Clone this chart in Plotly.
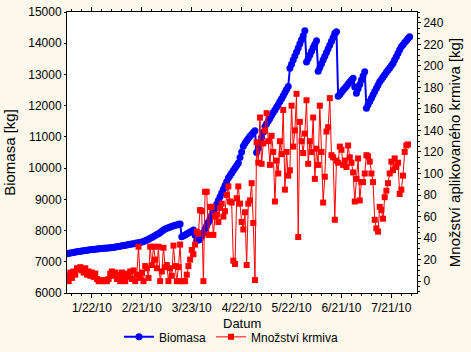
import pandas as pd
import plotly.graph_objects as go

start_date = "2010-01-07"

biomasa = [
    7260, 7270, 7280, 7290, 7300, 7310, 7320, 7330, 7340, 7345,
    7355, 7360, 7370, 7375, 7385, 7390, 7395, 7400, 7410,
    7415, 7420, 7425, 7430, 7435, 7440, 7445, 7450, 7455, 7460,
    7470, 7480, 7490, 7500, 7510, 7520, 7530, 7540, 7550, 7560,
    7570, 7580, 7590, 7600, 7610, 7620, 7630,
    7650, 7670, 7700, 7720, 7750,
    7780, 7810, 7840, 7870, 7900, 7940, 7980, 8020,
    8050, 8070, 8090, 8110, 8130, 8150, 8170, 8180, 8200, 8210,
    7800,
    7830, 7860, 7890, 7920, 7950, 7980, 8020,
    7850, 7680, 7700,
    7720, 7830, 7940, 8050, 8160, 8270, 8390, 8500, 8610, 8720,
    8840, 8960, 9080, 9200, 9320, 9440, 9560, 9680, 9760, 9840,
    9920, 10000, 10080, 10160, 10340, 10520, 10700, 10800, 10880, 10950,
    11020, 11080, 11140, 11200,
    10500, 10640, 10800, 10980, 11150, 11330,
    11420, 11510, 11600, 11690, 11780, 11860, 11950, 12040, 12130, 12220,
    12320, 12420, 12520, 12610,
    13200, 13330, 13460, 13590, 13720, 13850, 13980, 14110, 14240, 14400,
    13400, 13510, 13620, 13740, 13860, 13970, 14080,
    13100, 13220, 13340, 13460, 13580, 13700, 13820, 13940, 14060, 14180,
    14320, 14370,
    12300, 12360, 12430, 12500, 12560, 12620, 12690, 12760, 12820, 12880,
    12600, 12400, 12540, 12680, 12820, 12950, 13090,
    11920, 12030, 12130, 12240, 12350, 12450, 12560, 12660, 12770, 12840,
    12920, 12990, 13070, 13140, 13210, 13290, 13360, 13470, 13570, 13680,
    13790, 13890, 13950, 14020, 14080, 14150, 14210,
]

krmivo = [
    5, 0, 8, 3, 9, 6, 12, 11, 13, 10,
    8, 12, 6, 9, 5, 8, 4, 7, 2, 0,
    1, 0, 0, 1, 0, 2, 7, 9, 5, 8,
    2, 6, 0, 8, 3, 0, 7, 4, 9, 2,
    10, 0, 6, 32, 3, 8, 0, 14, 12, 3,
    32, 15, 32, 20, 12, 32, 0, 9, 31, 13,
    15, 0, 12, 5, 33, 14, 0, 13, 34, 0,
    0, 0, 6, 14, 20, 29, 25, 34, 46, 44,
    66, 65, 0, 83, 83, 43, 69, 69, 43, 60,
    62, 55, 68, 72, 60, 65, 80, 88, 74, 73,
    19, 16, 77, 88, 72, 55, 48, 64, 15, 72,
    75, 91, 54, 1, 129, 110, 152, 109, 128, 140,
    156, 130, 108, 135, 120, 74, 112, 100, 130, 118,
    159, 85, 120, 98, 103, 163, 125, 140, 174, 41,
    148, 130, 119, 137, 168, 109, 130, 120, 152, 95,
    123, 108, 163, 120, 73, 97, 139, 143, 170, 117,
    115, 57, 112, 110, 125, 122, 108, 112, 106, 126,
    115, 110, 101, 74, 95, 114, 75, 92, 92, 100,
    117, 116, 111, 100, 92, 57, 49, 46, 69, 66,
    58, 78, 84, 91, 100, 111, 103, 114, 106, 110,
    81, 85, 98, 120, 126, 127,
]

tick_dates = ["2010-01-22", "2010-02-21", "2010-03-23", "2010-04-22",
              "2010-05-22", "2010-06-21", "2010-07-21"]
tick_labels = ["1/22/10", "2/21/10", "3/23/10", "4/22/10",
               "5/22/10", "6/21/10", "7/21/10"]
left_ticks = [6000, 7000, 8000, 9000, 10000, 11000, 12000, 13000, 14000, 15000]
right_ticks = [0, 20, 40, 60, 80, 100, 120, 140, 160, 180, 200, 220, 240]

dates_b = pd.date_range(start_date, periods=len(biomasa), freq="D")
dates_k = pd.date_range(start_date, periods=len(krmivo), freq="D")

FONT = "Liberation Sans, Arial, sans-serif"

fig = go.Figure()
fig.add_trace(go.Scatter(
    x=dates_b, y=biomasa, name="Biomasa", mode="lines+markers",
    line=dict(color="#0000FF", width=2),
    marker=dict(symbol="circle", size=7, color="#0000FF"),
    yaxis="y", cliponaxis=True,
))
fig.add_trace(go.Scatter(
    x=dates_k, y=krmivo, name="Množství krmiva", mode="lines+markers",
    line=dict(color="#FF0000", width=1),
    marker=dict(symbol="square", size=6, color="#FF0000"),
    yaxis="y2", cliponaxis=True,
))

fig.update_layout(
    width=471, height=352,
    margin=dict(l=67, r=54, t=12, b=59, autoexpand=False),
    paper_bgcolor="#FDF8EC",
    plot_bgcolor="#FFFFFF",
    font=dict(family=FONT, size=12, color="#000000"),
    showlegend=True,
    legend=dict(orientation="h", x=0.47, xanchor="center",
                yref="container", y=0.043, yanchor="middle",
                bgcolor="rgba(0,0,0,0)", font=dict(size=12), itemwidth=30,
                tracegroupgap=0),
    annotations=[dict(text="Datum", xref="paper", yref="paper", x=0.5, y=-0.11,
                      xanchor="center", yanchor="middle", showarrow=False,
                      font=dict(size=13))],
    xaxis=dict(
        range=["2010-01-07 00:00", "2010-08-05 10:00"],
        tickvals=tick_dates, ticktext=tick_labels,
        showgrid=False, zeroline=False, automargin=False,
        showline=True, linecolor="#000000", linewidth=1, mirror="ticks",
        ticks="outside", ticklen=4, tickcolor="#000000",
        minor=dict(ticks="outside", ticklen=2, dtick=6 * 86400000,
                   tick0="2010-01-22", tickcolor="#000000"),
        tickfont=dict(size=12),
    ),
    yaxis=dict(
        range=[6000, 15000], tickvals=left_ticks, tickformat="d",
        showgrid=False, zeroline=False, automargin=False,
        showline=True, linecolor="#000000", linewidth=1,
        ticks="outside", ticklen=2, tickcolor="#000000",
        title=dict(text="Biomasa [kg]", font=dict(size=15), standoff=8),
        tickfont=dict(size=12),
    ),
    yaxis2=dict(
        range=[-11, 250], tickvals=right_ticks,
        overlaying="y", side="right", automargin=False,
        showgrid=False, zeroline=False,
        showline=True, linecolor="#000000", linewidth=1,
        ticks="outside", ticklen=3, tickcolor="#000000",
        minor=dict(ticks="outside", ticklen=2, dtick=5, tickcolor="#000000"),
        title=dict(text="Množství aplikovaného krmiva [kg]", font=dict(size=15), standoff=6),
        tickfont=dict(size=12),
    ),
)

fig.write_html("out.html")
